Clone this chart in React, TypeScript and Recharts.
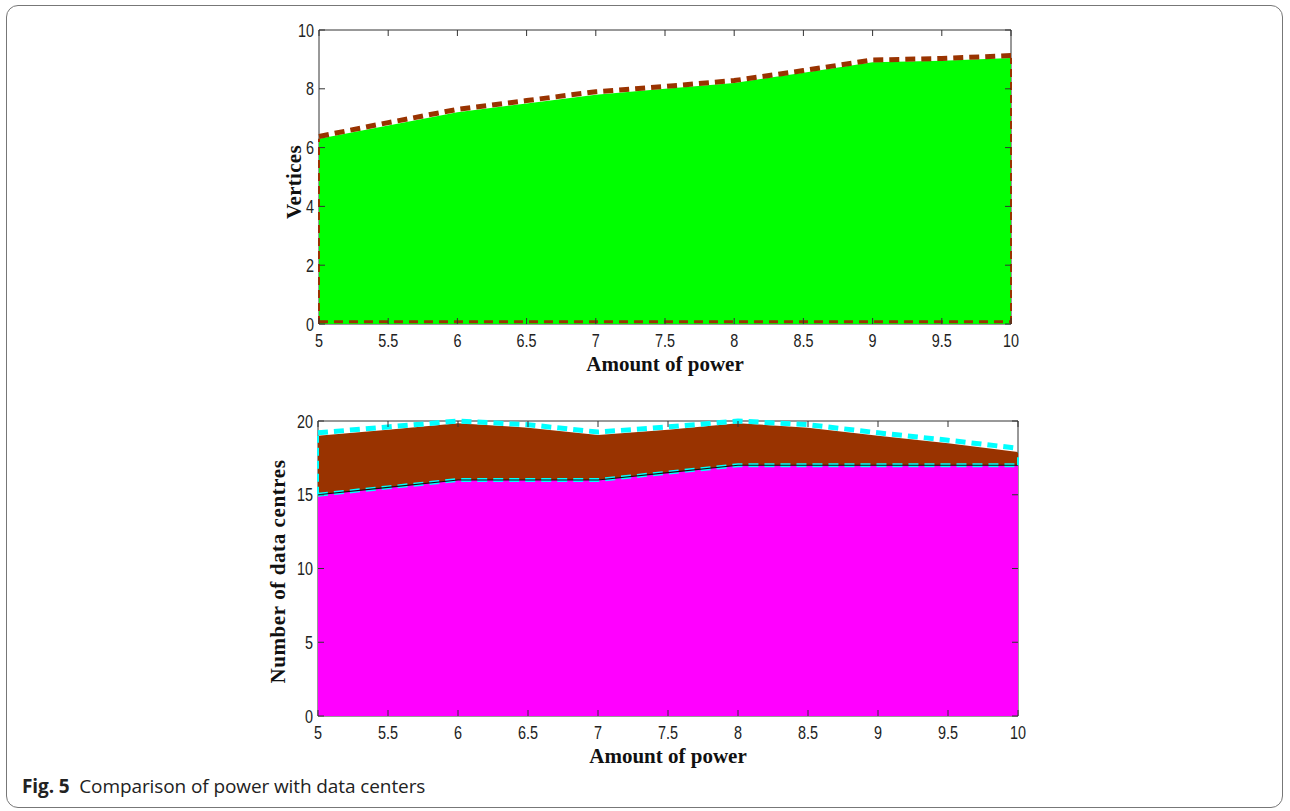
import React from "react";
import {
  ComposedChart,
  Area,
  Line,
  XAxis,
  YAxis,
  ReferenceArea,
  ReferenceLine,
} from "recharts";

/* ---- data ---- */
const POWER = [5, 5.5, 6, 6.5, 7, 7.5, 8, 8.5, 9, 9.5, 10];
const X_TICKS = [5, 5.5, 6, 6.5, 7, 7.5, 8, 8.5, 9, 9.5, 10];

// top panel: vertices
const VERTICES = [6.3, 6.75, 7.2, 7.5, 7.8, 8.0, 8.2, 8.55, 8.9, 8.95, 9.05];
const VERTICES_EDGE = [6.38, 6.85, 7.3, 7.6, 7.9, 8.08, 8.28, 8.62, 8.98, 9.03, 9.13];
const V_TICKS = [0, 2, 4, 6, 8, 10];

// bottom panel: data centres
const DC_LOWER = [15.0, 15.5, 16.0, 16.0, 16.0, 16.5, 17.0, 17.0, 17.0, 17.0, 17.0];
const DC_UPPER = [19.0, 19.4, 19.85, 19.55, 19.05, 19.4, 19.85, 19.55, 19.0, 18.5, 17.9];
const DC_UPPER_EDGE = [19.2, 19.6, 20.0, 19.75, 19.25, 19.6, 20.0, 19.75, 19.2, 18.7, 18.15];
const DC_TICKS = [0, 5, 10, 15, 20];

const vertexData = POWER.map((x, i) => ({ x, v: VERTICES[i], edge: VERTICES_EDGE[i] }));
const dcData = POWER.map((x, i) => ({
  x,
  lower: DC_LOWER[i],
  upper: DC_UPPER[i],
  edge: DC_UPPER_EDGE[i],
}));

/* ---- styles ---- */
const TICK_FONT = "'Liberation Sans', Arial, sans-serif";
const TITLE_FONT = "'Liberation Serif', 'Times New Roman', serif";
const GREEN = "#00ff00";
const BROWN = "#993300";
const MAGENTA = "#ff00ff";
const CYAN = "#00ffff";

// narrow-looking tick text (squeezed horizontally)
const TickText = ({ x, y, anchor, children }: any) => (
  <text transform={`translate(${x} ${y}) scale(0.8 1)`} textAnchor={anchor}
    dominantBaseline="central" fontFamily={TICK_FONT} fontSize={18} fill="#222">
    {children}
  </text>
);

const XTick = (props: any) => {
  const { x, y, payload, plotH } = props;
  return (
    <g>
      <line x1={x} y1={y} x2={x} y2={y - 6} stroke="#333" />
      <line x1={x} y1={y - plotH} x2={x} y2={y - plotH + 6} stroke="#333" />
      <TickText x={x} y={y + 16} anchor="middle">{payload.value}</TickText>
    </g>
  );
};

const YTick = (props: any) => {
  const { x, y, payload, plotW } = props;
  return (
    <g>
      <line x1={x} y1={y} x2={x + 6} y2={y} stroke="#333" />
      <line x1={x + plotW} y1={y} x2={x + plotW - 6} y2={y} stroke="#333" />
      <TickText x={x - 5} y={y} anchor="end">{payload.value}</TickText>
    </g>
  );
};

const xTitle = (text: string, dy: number) => (p: any) => {
  const vb = p.viewBox;
  return (
    <text x={vb.x + vb.width / 2} y={vb.y + dy} textAnchor="middle" dominantBaseline="central"
      fontFamily={TITLE_FONT} fontWeight="bold" fontSize={21} fill="#111">
      {text}
    </text>
  );
};

const yTitle = (text: string, cx: number, dy: number, spacing = 0) => (p: any) => {
  const vb = p.viewBox;
  const cy = vb.y + vb.height / 2 + dy;
  return (
    <text x={cx} y={cy} transform={`rotate(-90 ${cx} ${cy})`} textAnchor="middle"
      dominantBaseline="central" fontFamily={TITLE_FONT} fontWeight="bold" fontSize={21}
      letterSpacing={spacing} fill="#111">
      {text}
    </text>
  );
};

function VerticesPanel() {
  // plot area: x 319..1011, y 30..324
  const plotW = 692;
  const plotH = 294;
  return (
    <div style={{ position: "absolute", left: 0, top: 0, width: 1290, height: 400 }}>
      <ComposedChart width={1290} height={400} data={vertexData}
        margin={{ top: 30, right: 279, bottom: 0, left: 0 }}>
        <XAxis type="number" dataKey="x" domain={[5, 10]} ticks={X_TICKS} height={76}
          axisLine={false} tickLine={false} tickSize={0} tickMargin={0}
          tick={(p: any) => <XTick {...p} plotH={plotH} />} interval={0}
          label={{ content: xTitle("Amount of power", 40) }} />
        <YAxis type="number" domain={[0, 10]} ticks={V_TICKS} width={319}
          axisLine={false} tickLine={false} tickSize={0} tickMargin={0}
          tick={(p: any) => <YTick {...p} plotW={plotW} />} interval={0}
          label={{ content: yTitle("Vertices", 294, 5, 0.3) }} />
        <ReferenceArea x1={5} x2={10} y1={0} y2={10} fill="#fff" stroke="#333" strokeWidth={1} ifOverflow="visible" />
        <Area type="linear" dataKey="v" fill={GREEN} fillOpacity={1} stroke="none" isAnimationActive={false} />
        <Line type="linear" dataKey="edge" stroke={BROWN} strokeWidth={5} strokeDasharray="10 6"
          dot={false} isAnimationActive={false} />
        <ReferenceLine y={0.08} stroke={BROWN} strokeWidth={3} strokeDasharray="9 6" />
        <ReferenceLine segment={[{ x: 5, y: 0 }, { x: 5, y: VERTICES[0] }]} stroke={BROWN}
          strokeWidth={2} strokeDasharray="8 5" />
        <ReferenceLine segment={[{ x: 10, y: 0 }, { x: 10, y: VERTICES[10] }]} stroke={BROWN}
          strokeWidth={2} strokeDasharray="8 5" />
      </ComposedChart>
    </div>
  );
}

function DataCentrePanel() {
  // plot area: x 318..1018, y 421..716
  const plotW = 700;
  const plotH = 295;
  return (
    <div style={{ position: "absolute", left: 0, top: 400, width: 1290, height: 411 }}>
      <ComposedChart width={1290} height={411} data={dcData}
        margin={{ top: 21, right: 272, bottom: 0, left: 0 }}>
        <XAxis type="number" dataKey="x" domain={[5, 10]} ticks={X_TICKS} height={95}
          axisLine={false} tickLine={false} tickSize={0} tickMargin={0}
          tick={(p: any) => <XTick {...p} plotH={plotH} />} interval={0}
          label={{ content: xTitle("Amount of power", 40) }} />
        <YAxis type="number" domain={[0, 20]} ticks={DC_TICKS} width={318}
          axisLine={false} tickLine={false} tickSize={0} tickMargin={0}
          tick={(p: any) => <YTick {...p} plotW={plotW} />} interval={0}
          label={{ content: yTitle("Number of data centres", 278, 3, 0.6) }} />
        <ReferenceArea x1={5} x2={10} y1={0} y2={20} fill="#fff" stroke="#333" strokeWidth={1} ifOverflow="visible" />
        <Area type="linear" dataKey="upper" fill={BROWN} fillOpacity={1} stroke="none" isAnimationActive={false} />
        <Area type="linear" dataKey="lower" fill={MAGENTA} fillOpacity={1} stroke="none" isAnimationActive={false} />
        <Line type="linear" dataKey="lower" stroke={CYAN} strokeWidth={4} strokeDasharray="10 6"
          dot={false} isAnimationActive={false} />
        <Line type="linear" dataKey="lower" stroke="#111" strokeWidth={1.2}
          dot={false} isAnimationActive={false} />
        <Line type="linear" dataKey="edge" stroke={CYAN} strokeWidth={5} strokeDasharray="10 6"
          dot={false} isAnimationActive={false} />
        <ReferenceLine segment={[{ x: 5, y: DC_LOWER[0] }, { x: 5, y: DC_UPPER[0] }]} stroke={CYAN}
          strokeWidth={2} strokeDasharray="8 5" />
        <ReferenceLine segment={[{ x: 10, y: DC_LOWER[10] }, { x: 10, y: DC_UPPER[10] }]} stroke={CYAN}
          strokeWidth={2} strokeDasharray="8 5" />
      </ComposedChart>
    </div>
  );
}

export default function App() {
  return (
    <div style={{ position: "absolute", left: 0, top: 0, width: 1290, height: 811, background: "#fff" }}>
      <div style={{
        position: "absolute", left: 6, top: 5, width: 1277, height: 803,
        border: "1px solid #777", borderRadius: 12, boxSizing: "border-box",
      }} />
      <VerticesPanel />
      <DataCentrePanel />
      <div style={{
        position: "absolute", left: 22, top: 773, fontFamily: "'Open Sans', 'Noto Sans', sans-serif",
        fontSize: 19, color: "#222", whiteSpace: "nowrap", letterSpacing: -0.1,
      }}>
        <b>Fig. 5</b>&nbsp; Comparison of power with data centers
      </div>
    </div>
  );
}
